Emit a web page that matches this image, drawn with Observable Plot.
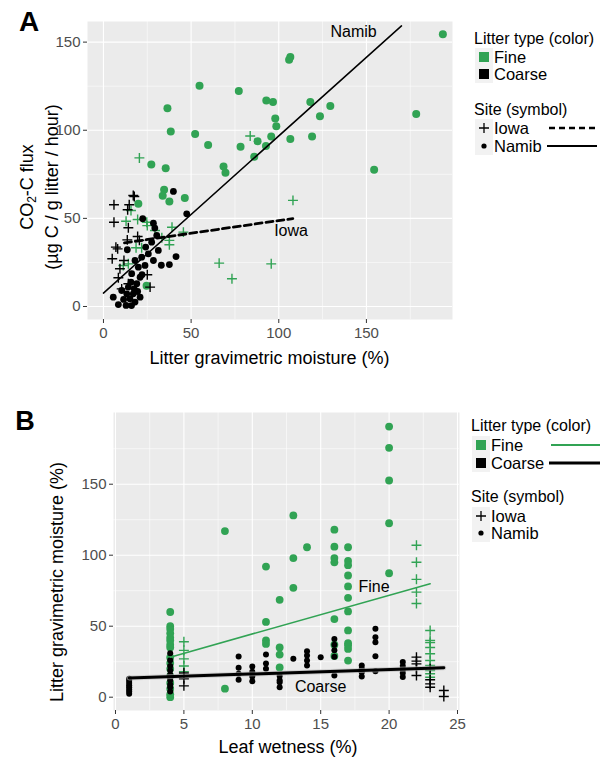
<!DOCTYPE html>
<html><head><meta charset="utf-8">
<script src="https://cdn.jsdelivr.net/npm/d3@7"></script>
<script src="https://cdn.jsdelivr.net/npm/@observablehq/plot@0.6"></script>
<style>
body{margin:0;background:#fff;font-family:"Liberation Sans",Arial,Helvetica,sans-serif;}
#root{position:relative;width:608px;height:760px;overflow:hidden;background:#fff;}
#root svg{position:absolute;}
.t{position:absolute;white-space:nowrap;color:#000;line-height:1;}
.c{transform:translate(-50%,-50%);}
.l{transform:translate(0,-50%);}
</style></head><body><div id="root"></div>
<script>
// ---------- Panel A data: [litter moisture %, CO2-C flux] ----------
const aFineNamib = [[193.6,154.4],[106.6,141.5],[105.9,140.0],[54.8,125.2],[77.2,122.2],[36.5,112.5],[92.9,116.9],[96.7,116.0],[118.0,116.0],[129.4,113.7],[123.5,108.0],[178.4,109.2],[98.0,106.7],[98.6,102.3],[38.4,99.3],[52.3,97.8],[95.7,96.5],[106.6,95.0],[119.0,96.5],[87.9,93.8],[59.7,91.6],[78.2,90.6],[92.7,91.1],[86.0,85.0],[27.3,80.6],[35.5,78.5],[68.5,79.5],[69.6,75.9],[154.4,77.6],[34.6,66.2],[33.8,62.8],[37.6,59.6],[46.4,61.5],[19.9,58.3],[24.6,11.8]];
const aFineIowa = [[20.5,84.3],[83.7,96.7],[108.1,60.2],[66.0,24.6],[95.7,24.2],[73.3,15.7],[45.6,42.2],[39.1,45.0],[37.6,35.0],[37.6,37.5],[15.7,54.5],[12.9,48.4],[19.5,49.4],[24.7,47.8],[25.0,45.9],[29.4,43.1],[33.3,39.0],[18.6,33.3],[21.8,33.3],[11.3,23.3],[14.2,24.2]];
const aCoarseNamib = [[39.9,65.3],[47.5,52.6],[22.4,49.8],[28.5,47.3],[29.3,44.5],[30.4,40.3],[27.5,36.5],[24.1,33.7],[13.6,32.2],[31.3,31.8],[41.4,28.3],[28.5,26.1],[33.0,23.4],[37.6,23.8],[21.8,28.0],[18.0,26.1],[19.9,22.3],[16.1,18.6],[20.9,16.6],[19.0,12.9],[14.2,11.0],[10.4,9.1],[13.3,7.2],[17.0,7.2],[5.6,5.3],[8.5,1.1],[12.9,0.6],[15.1,4.4],[18.0,2.5],[20.9,5.3],[15.7,13.8],[23.7,23.3],[25.6,29.9],[22.0,18.0],[17.5,10.0],[11.5,4.0],[16.0,0.5],[19.5,8.5]];
const aCoarseIowa = [[17.6,62.4],[6.0,57.7],[14.7,57.7],[13.8,54.9],[6.0,47.8],[14.2,44.7],[19.5,39.7],[13.6,37.8],[8.1,32.7],[5.0,27.1],[11.7,26.1],[9.4,21.4],[8.5,16.3],[25.0,18.0],[14.2,12.9],[10.4,10.0],[26.6,11.0],[20.5,37.5],[7.1,33.7],[17.0,63.0]];
const aNamibFit = [[0,7.6],[170,159.2]];
const aIowaFit = [[12,36.1],[108,49.9]];
const aFitLabels = [["Namib",142.7,155.7],["Iowa",107.0,43.1]];
const aXTicks = [0,50,100,150];
const aXMinor = [25,75,125,175];
const aYTicks = [0,50,100,150];
const aYMinor = [25,75,125];

// ---------- Panel B data: leaf wetness column -> litter moisture values ----------
const bFineNamib = [[4,[60,50,48,45,42,40,37,35,28,24,20,15,10,6,2,0]],[8,[117,6]],[11,[92,53,40,37.5]],[12,[68.6,35,30,21]],[13,[128,98,77]],[14,[105.6]],[16,[118,106,98,95,55,37,29]],[17,[105.6,96,93,85.7,78,70,60.4,47,38,36.4,34,25.8]],[20,[190.6,175.6,152.6,122.5,87.3]]];
const bFineIowa = [[5,[39,33,27,22,18]],[22,[107,95,83,74,66]],[23,[47,40,38.5,35,30.6,25.8,22.3,18.8,16.5,14]]];
const bCoarseNamib = [[1,[2.5,4,5.5,7,8.5,10,11.5,13]],[4,[31,26,22,19,16,14,12,9,7,4]],[9,[28.7,20.7,16.5,12.3]],[10,[21.6,18,14.5,11.3]],[11,[30,23.8,20]],[12,[15,12,10.6,7]],[13,[27]],[14,[32.4,29.4,25.8,22.3]],[15,[28.2]],[16,[41,37,33,28.5,15.3]],[18,[22.3,20,17.5,14.6]],[19,[48.2,42.3,38.7,28.9,18.3]],[21,[24.7,22,19.5,17,14.3]]];
const bCoarseIowa = [[5,[17,13,8]],[22,[28.2,25.4,23.5,20,15.3]],[23,[20,12.3,9.4,7]],[24,[4.7,0.5]]];
const bFineFit = [[4,28.2],[23,79.9]];
const bCoarseFit = [[1,13.6],[24,20.7]];
const bFitLabels = [["Fine",18.9,77.5],["Coarse",15.0,7.5]];
const bXTicks = [0,5,10,15,20,25];
const bXMinor = [2.5,7.5,12.5,17.5,22.5];
const bYTicks = [0,50,100,150];
const bYMinor = [25,75,125,175];

const GREEN = "#31a354";
const FONT = '"Liberation Sans",Arial,Helvetica,sans-serif';
const root = document.getElementById("root");
const pts = a => a.map(([x,y]) => ({x,y}));
const cols = a => a.flatMap(([x,ys]) => ys.map(y => ({x,y})));
const lbl = a => a.map(([t,x,y]) => ({t,x,y}));

function panel(o) {
  return Plot.plot({
    width: o.width, height: o.height,
    marginLeft: o.ml, marginRight: o.mr, marginTop: o.mt, marginBottom: o.mb,
    style: {fontFamily: FONT, background: "transparent", overflow: "visible"},
    x: {domain: o.xd}, y: {domain: o.yd},
    marks: [
      Plot.frame({fill: "#ebebeb", stroke: "none"}),
      Plot.gridX(o.xMinor, {stroke: "white", strokeOpacity: 1, strokeWidth: 0.55}),
      Plot.gridY(o.yMinor, {stroke: "white", strokeOpacity: 1, strokeWidth: 0.55}),
      Plot.gridX(o.xTicks, {stroke: "white", strokeOpacity: 1, strokeWidth: 1.1}),
      Plot.gridY(o.yTicks, {stroke: "white", strokeOpacity: 1, strokeWidth: 1.1}),
      Plot.axisX(o.xTicks, {tickSize: 4, tickPadding: 4, fontSize: 15, color: "#4d4d4d", stroke: "#333", label: null}),
      Plot.axisY(o.yTicks, {tickSize: 4, tickPadding: 3, fontSize: 15, color: "#4d4d4d", stroke: "#333", label: null}),
      ...o.marks
    ]
  });
}

const PLUS_R = 3.3;
const plotA = panel({
  width: 460, height: 370, ml: 87, mr: 8, mt: 21, mb: 51,
  xd: [-9.1, 199.1], yd: [-7.38, 161.7],
  xTicks: aXTicks, xMinor: aXMinor, yTicks: aYTicks, yMinor: aYMinor,
  marks: [
    Plot.dot(pts(aFineNamib), {x: "x", y: "y", r: 4, fill: GREEN}),
    Plot.dot(pts(aFineIowa), {x: "x", y: "y", r: PLUS_R, symbol: "plus", stroke: GREEN, strokeWidth: 1.4}),
    Plot.dot(pts(aCoarseNamib), {x: "x", y: "y", r: 3.4, fill: "black"}),
    Plot.dot(pts(aCoarseIowa), {x: "x", y: "y", r: PLUS_R, symbol: "plus", stroke: "black", strokeWidth: 1.4}),
    Plot.line(pts(aNamibFit), {x: "x", y: "y", stroke: "black", strokeWidth: 1.5}),
    Plot.line(pts(aIowaFit), {x: "x", y: "y", stroke: "black", strokeWidth: 2.8, strokeDasharray: "7,4"}),
    Plot.text(lbl(aFitLabels), {x: "x", y: "y", text: "t", fontSize: 16, fill: "black"})
  ]
});
plotA.style.left = "0px"; plotA.style.top = "0px";
root.appendChild(plotA);

const plotB = panel({
  width: 467, height: 380, ml: 113, mr: 8, mt: 32, mb: 50,
  xd: [-0.146, 25.146], yd: [-9.37, 200.5],
  xTicks: bXTicks, xMinor: bXMinor, yTicks: bYTicks, yMinor: bYMinor,
  marks: [
    Plot.dot(cols(bFineNamib), {x: "x", y: "y", r: 3.9, fill: GREEN}),
    Plot.dot(cols(bFineIowa), {x: "x", y: "y", r: PLUS_R, symbol: "plus", stroke: GREEN, strokeWidth: 1.4}),
    Plot.dot(cols(bCoarseNamib), {x: "x", y: "y", r: 3, fill: "black"}),
    Plot.dot(cols(bCoarseIowa), {x: "x", y: "y", r: PLUS_R, symbol: "plus", stroke: "black", strokeWidth: 1.4}),
    Plot.line(pts(bFineFit), {x: "x", y: "y", stroke: GREEN, strokeWidth: 1.6}),
    Plot.line(pts(bCoarseFit), {x: "x", y: "y", stroke: "#bdbdbd", strokeWidth: 5, strokeOpacity: 0.6}),
    Plot.line(pts(bCoarseFit), {x: "x", y: "y", stroke: "black", strokeWidth: 3}),
    Plot.text(lbl(bFitLabels), {x: "x", y: "y", text: "t", fontSize: 16, fill: "black"})
  ]
});
plotB.style.left = "0px"; plotB.style.top = "380px";
root.appendChild(plotB);

// ---------- text helpers ----------
function text(str, x, y, size, cls, extra) {
  const d = document.createElement("div");
  d.className = "t " + (cls || "c");
  d.style.left = x + "px"; d.style.top = y + "px"; d.style.fontSize = size + "px";
  if (extra) Object.assign(d.style, extra);
  d.innerHTML = str;
  root.appendChild(d);
  return d;
}
// panel tags
text("A", 29, 22, 28, "c", {fontWeight: "bold"});
text("B", 25, 421, 27, "c", {fontWeight: "bold"});
// axis titles
text("Litter gravimetric moisture (%)", 269.5, 358, 18, "c");
text("Leaf wetness (%)", 288, 747, 18, "c");
text("Litter gravimetric moisture (%)", 57, 582, 18, "c", {transform: "translate(-50%,-50%) rotate(-90deg)"});
text('CO<sub style="font-size:12px;vertical-align:-3px">2</sub>-C flux<br>(µg C / g litter / hour)', 39, 187, 18, "c", {transform: "translate(-50%,-50%) rotate(-90deg)", lineHeight: "20px", textAlign: "center"});

// ---------- legends ----------
function keySvg(x, y, inner, w, h) {
  const s = document.createElementNS("http://www.w3.org/2000/svg", "svg");
  s.setAttribute("width", w || 18); s.setAttribute("height", h || 18);
  s.style.left = x + "px"; s.style.top = y + "px";
  s.innerHTML = inner;
  root.appendChild(s);
}
const bg = '<rect width="18" height="18" fill="#f2f2f2"/>';
function legend(x0, rows) {
  for (const r of rows) {
    if (r.title) { text(r.title, x0, r.y, 16, "l"); continue; }
    let inner = bg;
    if (r.sq) inner += `<rect x="4" y="4" width="10" height="10" fill="${r.sq}"/>`;
    if (r.plus) inner += `<path d="M4,9H14M9,4V14" stroke="black" stroke-width="1.3"/>`;
    if (r.dot) inner += `<circle cx="9" cy="9" r="2.6" fill="black"/>`;
    keySvg(x0 + 1, r.y - 9, inner);
    text(r.label, x0 + 20, r.y, 16.5, "l");
    if (r.line) keySvg(r.lx, r.y - 3, `<line x1="0" y1="3" x2="${r.lw}" y2="3" stroke="${r.line}" stroke-width="${r.sw}" ${r.dash ? 'stroke-dasharray="' + r.dash + '"' : ''}/>`, r.lw, 6);
  }
}
legend(474, [
  {title: "Litter type (color)", y: 39},
  {label: "Fine", sq: GREEN, y: 57},
  {label: "Coarse", sq: "black", y: 74},
  {title: "Site (symbol)", y: 110},
  {label: "Iowa", plus: true, y: 128, line: "black", lx: 549, lw: 48, sw: 2.6, dash: "6,4"},
  {label: "Namib", dot: true, y: 146, line: "black", lx: 547, lw: 50, sw: 2.2}
]);
legend(471, [
  {title: "Litter type (color)", y: 426},
  {label: "Fine", sq: GREEN, y: 445, line: GREEN, lx: 551, lw: 49, sw: 2.2},
  {label: "Coarse", sq: "black", y: 463, line: "black", lx: 549, lw: 51, sw: 3},
  {title: "Site (symbol)", y: 497},
  {label: "Iowa", plus: true, y: 516},
  {label: "Namib", dot: true, y: 533}
]);
</script></body></html>
